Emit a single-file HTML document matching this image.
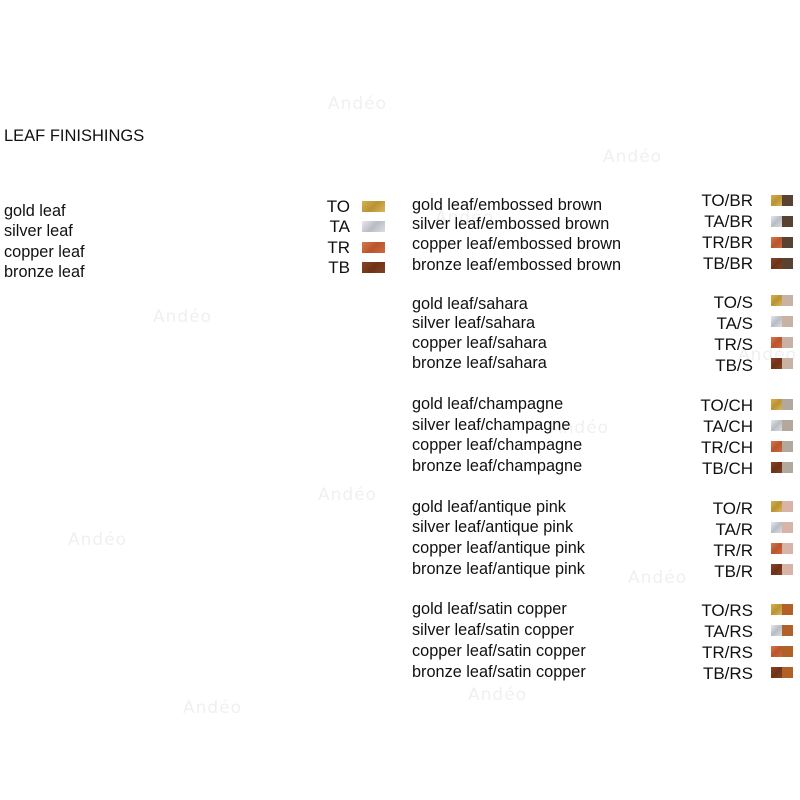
<!DOCTYPE html>
<html><head><meta charset="utf-8"><style>
body{margin:0;width:800px;height:800px;background:#fff;position:relative;overflow:hidden;font-family:"Liberation Sans",Arial,sans-serif;color:#111}
div{position:absolute;white-space:nowrap}
.t{font-size:16.3px;line-height:18px}
.c{font-size:17px;line-height:18px;text-align:right;width:80px}
.w{color:#f0f0f0;font-size:17px;font-family:"DejaVu Sans",sans-serif;letter-spacing:1px}
.s{width:23px;height:11px}
.h{width:11px;height:11px}
.g{background:linear-gradient(135deg,#d6b24e,#b99234 50%,#d8b85a)}
.a{background:linear-gradient(135deg,#e6e8ec,#b8bcc4 50%,#dcdde2)}
.r{background:linear-gradient(135deg,#d9784a,#b8552e 50%,#cf6a3e)}
.b{background:linear-gradient(135deg,#8a4424,#6e3219 50%,#84401f)}
</style></head><body>
<div class="w" style="left:328px;top:94px">Andéo</div>
<div class="w" style="left:603px;top:147px">Andéo</div>
<div class="w" style="left:153px;top:307px">Andéo</div>
<div class="w" style="left:318px;top:485px">Andéo</div>
<div class="w" style="left:68px;top:530px">Andéo</div>
<div class="w" style="left:628px;top:568px">Andéo</div>
<div class="w" style="left:183px;top:698px">Andéo</div>
<div class="w" style="left:468px;top:685px">Andéo</div>
<div class="w" style="left:738px;top:345px">Andéo</div>
<div class="w" style="left:550px;top:418px">Andéo</div>
<div class="w" style="left:435px;top:208px">Andéo</div>

<div style="left:4px;top:127px;font-size:16.5px;line-height:18px">LEAF FINISHINGS</div>

<div class="t" style="left:4px;top:202px">gold leaf</div>
<div class="t" style="left:4px;top:222px">silver leaf</div>
<div class="t" style="left:4px;top:243px">copper leaf</div>
<div class="t" style="left:4px;top:263px">bronze leaf</div>
<div class="c" style="left:270px;top:198px">TO</div>
<div class="c" style="left:270px;top:218px">TA</div>
<div class="c" style="left:270px;top:239px">TR</div>
<div class="c" style="left:270px;top:259px">TB</div>
<div class="s g" style="left:362px;top:201px"></div>
<div class="s a" style="left:362px;top:221px"></div>
<div class="s r" style="left:362px;top:242px"></div>
<div class="s b" style="left:362px;top:262px"></div>

<div class="t" style="left:412px;top:196px">gold leaf/embossed brown</div>
<div class="t" style="left:412px;top:215px">silver leaf/embossed brown</div>
<div class="t" style="left:412px;top:235px">copper leaf/embossed brown</div>
<div class="t" style="left:412px;top:256px">bronze leaf/embossed brown</div>
<div class="c" style="left:673px;top:192px">TO/BR</div>
<div class="c" style="left:673px;top:213px">TA/BR</div>
<div class="c" style="left:673px;top:234px">TR/BR</div>
<div class="c" style="left:673px;top:255px">TB/BR</div>
<div class="h g" style="left:771px;top:195px"></div><div class="h" style="left:782px;top:195px;background:#5a4232"></div>
<div class="h a" style="left:771px;top:216px"></div><div class="h" style="left:782px;top:216px;background:#5a4232"></div>
<div class="h r" style="left:771px;top:237px"></div><div class="h" style="left:782px;top:237px;background:#5a4232"></div>
<div class="h b" style="left:771px;top:258px"></div><div class="h" style="left:782px;top:258px;background:#5a4232"></div>

<div class="t" style="left:412px;top:295px">gold leaf/sahara</div>
<div class="t" style="left:412px;top:314px">silver leaf/sahara</div>
<div class="t" style="left:412px;top:334px">copper leaf/sahara</div>
<div class="t" style="left:412px;top:354px">bronze leaf/sahara</div>
<div class="c" style="left:673px;top:294px">TO/S</div>
<div class="c" style="left:673px;top:315px">TA/S</div>
<div class="c" style="left:673px;top:336px">TR/S</div>
<div class="c" style="left:673px;top:357px">TB/S</div>
<div class="h g" style="left:771px;top:295px"></div><div class="h" style="left:782px;top:295px;background:#c8b2a4"></div>
<div class="h a" style="left:771px;top:316px"></div><div class="h" style="left:782px;top:316px;background:#c8b2a4"></div>
<div class="h r" style="left:771px;top:337px"></div><div class="h" style="left:782px;top:337px;background:#c8b2a4"></div>
<div class="h b" style="left:771px;top:358px"></div><div class="h" style="left:782px;top:358px;background:#c8b2a4"></div>

<div class="t" style="left:412px;top:395px">gold leaf/champagne</div>
<div class="t" style="left:412px;top:416px">silver leaf/champagne</div>
<div class="t" style="left:412px;top:436px">copper leaf/champagne</div>
<div class="t" style="left:412px;top:457px">bronze leaf/champagne</div>
<div class="c" style="left:673px;top:397px">TO/CH</div>
<div class="c" style="left:673px;top:418px">TA/CH</div>
<div class="c" style="left:673px;top:439px">TR/CH</div>
<div class="c" style="left:673px;top:460px">TB/CH</div>
<div class="h g" style="left:771px;top:399px"></div><div class="h" style="left:782px;top:399px;background:#b2a89c"></div>
<div class="h a" style="left:771px;top:420px"></div><div class="h" style="left:782px;top:420px;background:#b2a89c"></div>
<div class="h r" style="left:771px;top:441px"></div><div class="h" style="left:782px;top:441px;background:#b2a89c"></div>
<div class="h b" style="left:771px;top:462px"></div><div class="h" style="left:782px;top:462px;background:#b2a89c"></div>

<div class="t" style="left:412px;top:498px">gold leaf/antique pink</div>
<div class="t" style="left:412px;top:518px">silver leaf/antique pink</div>
<div class="t" style="left:412px;top:539px">copper leaf/antique pink</div>
<div class="t" style="left:412px;top:560px">bronze leaf/antique pink</div>
<div class="c" style="left:673px;top:500px">TO/R</div>
<div class="c" style="left:673px;top:521px">TA/R</div>
<div class="c" style="left:673px;top:542px">TR/R</div>
<div class="c" style="left:673px;top:563px">TB/R</div>
<div class="h g" style="left:771px;top:501px"></div><div class="h" style="left:782px;top:501px;background:#d8b4a8"></div>
<div class="h a" style="left:771px;top:522px"></div><div class="h" style="left:782px;top:522px;background:#d8b4a8"></div>
<div class="h r" style="left:771px;top:543px"></div><div class="h" style="left:782px;top:543px;background:#d8b4a8"></div>
<div class="h b" style="left:771px;top:564px"></div><div class="h" style="left:782px;top:564px;background:#d8b4a8"></div>

<div class="t" style="left:412px;top:600px">gold leaf/satin copper</div>
<div class="t" style="left:412px;top:621px">silver leaf/satin copper</div>
<div class="t" style="left:412px;top:642px">copper leaf/satin copper</div>
<div class="t" style="left:412px;top:663px">bronze leaf/satin copper</div>
<div class="c" style="left:673px;top:602px">TO/RS</div>
<div class="c" style="left:673px;top:623px">TA/RS</div>
<div class="c" style="left:673px;top:644px">TR/RS</div>
<div class="c" style="left:673px;top:665px">TB/RS</div>
<div class="h g" style="left:771px;top:604px"></div><div class="h" style="left:782px;top:604px;background:#b2602a"></div>
<div class="h a" style="left:771px;top:625px"></div><div class="h" style="left:782px;top:625px;background:#b2602a"></div>
<div class="h r" style="left:771px;top:646px"></div><div class="h" style="left:782px;top:646px;background:#b2602a"></div>
<div class="h b" style="left:771px;top:667px"></div><div class="h" style="left:782px;top:667px;background:#b2602a"></div>
</body></html>
